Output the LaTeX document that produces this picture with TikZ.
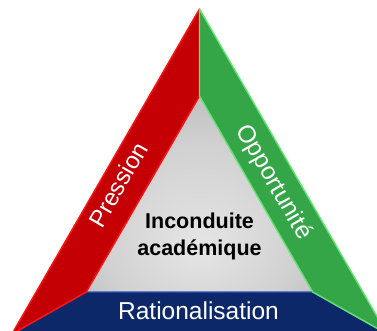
\documentclass[tikz,border=0pt]{standalone}
\usepackage{fontspec}
\setmainfont{Liberation Sans}
\definecolor{redfill}{RGB}{196,0,4}
\definecolor{redline}{RGB}{255,20,20}
\definecolor{greenfill}{RGB}{52,166,72}
\definecolor{greenline}{RGB}{98,228,112}
\definecolor{bluefill}{RGB}{12,40,104}
\definecolor{blueline}{RGB}{48,82,184}
\pgfdeclareradialshading{coreglow}{\pgfpoint{0bp}{-14bp}}{%
  color(0bp)=(white!90!black);
  color(22bp)=(white!82!black);
  color(45bp)=(white!68!black);
  color(70bp)=(white!56!black)}
\tikzset{
  band/.style={line width=1.4pt, line join=round},
  sidelabel/.style={text=white, font=\fontsize{24}{28}\selectfont, inner sep=0pt},
  corelabel/.style={text=black, font=\bfseries\fontsize{21.5}{27}\selectfont, align=center, inner sep=0pt}
}
\begin{document}
\begin{tikzpicture}[x=1pt,y=-1pt]
  \useasboundingbox (0,0) rectangle (377,331);
  \clip (0,0) rectangle (377,331);
  % outer triangle corners
  \coordinate (top) at (199.5,9);
  \coordinate (botL) at (11.9,334);
  \coordinate (botR) at (387.1,334);
  % inner triangle corners
  \coordinate (itop) at (199.5,96);
  \coordinate (ibotL) at (86.3,292);
  \coordinate (ibotR) at (312.7,292);
  % central triangle
  \shade[shading=coreglow] (itop) -- (ibotL) -- (ibotR) -- cycle;
  % three bands
  \filldraw[band, fill=bluefill, draw=blueline] (botL) -- (ibotL) -- (ibotR) -- (botR) -- cycle;
  \filldraw[band, fill=redfill, draw=redline] (top) -- (botL) -- (ibotL) -- (itop) -- cycle;
  \filldraw[band, fill=greenfill, draw=greenline] (top) -- (itop) -- (ibotR) -- (botR) -- cycle;
  % labels
  \node[sidelabel, rotate=60] (pression) at (118,185) {Pression};
  \node[sidelabel, rotate=-60, font=\fontsize{24.5}{28}\selectfont] (opportunite) at (273.5,182.5) {Opportunité};
  \node[sidelabel, anchor=base, font=\fontsize{24.5}{28}\selectfont] (rationalisation) at (198.5,319.5) {Rationalisation};
  \node[corelabel] (core) at (199.5,236) {Inconduite\\académique};
\end{tikzpicture}
\end{document}
